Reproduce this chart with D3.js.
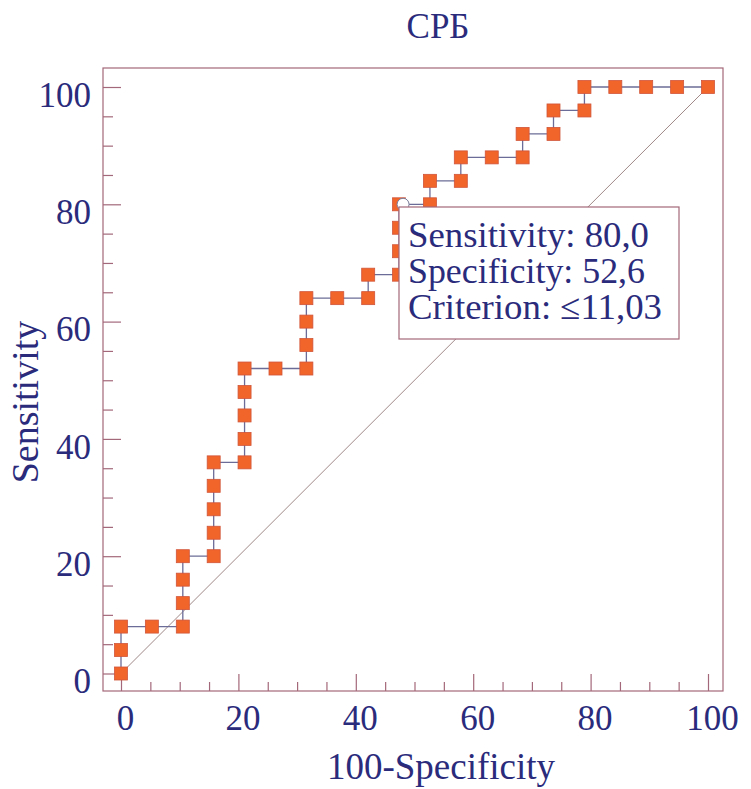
<!DOCTYPE html>
<html>
<head>
<meta charset="utf-8">
<script src="https://cdn.jsdelivr.net/npm/d3@7"></script>
<style>
  body { margin: 0; background: #fff; }
  text { font-family: "Liberation Serif", "Times New Roman", serif; fill: #2b2b7c; }
</style>
</head>
<body>
<svg id="chart" width="751" height="789"></svg>
<script>
// ROC points: 100-Specificity (x) and Sensitivity (y)
const fpr  = [0, 0, 0, 5.26, 10.53, 10.53, 10.53, 10.53, 15.79, 15.79, 15.79, 15.79, 15.79,
              21.05, 21.05, 21.05, 21.05, 21.05, 26.32, 31.58, 31.58, 31.58, 31.58, 36.84,
              42.11, 42.11, 47.37, 47.37, 47.37, 47.37, 52.63, 52.63, 57.89, 57.89, 63.16,
              68.42, 68.42, 73.68, 73.68, 78.95, 78.95, 84.21, 89.47, 94.74, 100];
const sens = [0, 4, 8, 8, 8, 12, 16, 20, 20, 24, 28, 32, 36,
              36, 40, 44, 48, 52, 52, 52, 56, 60, 64, 64,
              64, 68, 68, 72, 76, 80, 80, 84, 84, 88, 88,
              88, 92, 92, 96, 96, 100, 100, 100, 100, 100];

const majorTicks = [0, 20, 40, 60, 80, 100];
const minorTicks = d3.range(0, 101, 5);

const title = "СРБ";
const xTitle = "100-Specificity";
const yTitle = "Sensitivity";

// selected cut-off
const cutoff = {fpr: 47.37, sens: 80};
const tipLines = ["Sensitivity: 80,0", "Specificity: 52,6", "Criterion: \u226411,03"];

const frameColor = "#a3687a";
const svg = d3.select('#chart');

const x = d3.scaleLinear().domain([0, 100]).range([121, 708]);
const y = d3.scaleLinear().domain([0, 100]).range([673.5, 87]);

const frame = {left: 103, right: 723, top: 68, bottom: 691};

// frame
svg.append('rect')
    .attr('x', frame.left).attr('y', frame.top)
    .attr('width', frame.right - frame.left).attr('height', frame.bottom - frame.top)
    .attr('fill', 'none').attr('stroke', frameColor).attr('stroke-width', 1.2);

// axes with inward ticks
const styleAxis = g => {
    g.select('.domain').remove();
    g.selectAll('line').attr('stroke', frameColor).attr('stroke-width', 1.2);
    g.selectAll('text').attr('font-size', 35).attr('fill', '#2b2b7c')
        .attr('font-family', '"Liberation Serif", serif');
};

svg.append('g').attr('transform', `translate(${frame.left},0)`)
    .call(d3.axisLeft(y).tickValues(minorTicks.filter(v => v % 20)).tickSize(-10).tickFormat(''))
    .call(styleAxis);
svg.append('g').attr('transform', `translate(${frame.left},0)`)
    .call(d3.axisLeft(y).tickValues(majorTicks).tickSize(-18).tickPadding(12))
    .call(styleAxis)
    .selectAll('text').attr('dy', '0.55em');

svg.append('g').attr('transform', `translate(0,${frame.bottom})`)
    .call(d3.axisBottom(x).tickValues(minorTicks.filter(v => v % 20)).tickSize(-9).tickFormat(''))
    .call(styleAxis);
svg.append('g').attr('transform', `translate(0,${frame.bottom})`)
    .call(d3.axisBottom(x).tickValues(majorTicks).tickSize(-17).tickPadding(14))
    .call(styleAxis)
    .selectAll('text').attr('dx', 4).attr('dy', '0.71em');

// reference diagonal
svg.append('line')
    .attr('x1', x(0)).attr('y1', y(0)).attr('x2', x(100)).attr('y2', y(100))
    .attr('stroke', '#a08888').attr('stroke-width', 1);

// step curve
const pts = fpr.map((f, i) => ({f: f, s: sens[i]}));
svg.append('path')
    .datum(pts)
    .attr('fill', 'none')
    .attr('stroke', '#6c6c98')
    .attr('stroke-width', 1.3)
    .attr('d', d3.line().x(d => x(d.f)).y(d => y(d.s)));

svg.selectAll('rect.pt')
    .data(pts)
    .enter()
    .append('rect')
    .attr('class', 'pt')
    .attr('x', d => x(d.f) - 6.5)
    .attr('y', d => y(d.s) - 6.5)
    .attr('width', 13).attr('height', 13)
    .attr('fill', '#f2652a')
    .attr('stroke', '#d0553a').attr('stroke-width', 0.8);

// selected point marker
svg.append('circle')
    .attr('cx', x(cutoff.fpr) + 4).attr('cy', y(cutoff.sens))
    .attr('r', 6)
    .attr('fill', '#fff').attr('stroke', '#7a7a99').attr('stroke-width', 1);

// tooltip box
const tip = svg.append('g').attr('transform', 'translate(399,207)');
tip.append('rect')
    .attr('width', 280).attr('height', 132)
    .attr('fill', '#fff').attr('stroke', frameColor).attr('stroke-width', 1.2);
tip.selectAll('text')
    .data(tipLines)
    .enter()
    .append('text')
    .attr('x', 9)
    .attr('y', (d, i) => 40 + i * 35.8)
    .attr('font-size', 36)
    .attr('textLength', (d, i) => [241, 237, 254][i])
    .attr('lengthAdjust', 'spacingAndGlyphs')
    .text(d => d);

// titles
svg.append('text')
    .attr('x', 438).attr('y', 38)
    .attr('text-anchor', 'middle').attr('font-size', 35)
    .text(title);

svg.append('text')
    .attr('x', 441).attr('y', 779)
    .attr('text-anchor', 'middle').attr('font-size', 37)
    .text(xTitle);

svg.append('text')
    .attr('transform', 'translate(38,402) rotate(-90)')
    .attr('text-anchor', 'middle').attr('font-size', 38)
    .text(yTitle);
</script>
</body>
</html>
